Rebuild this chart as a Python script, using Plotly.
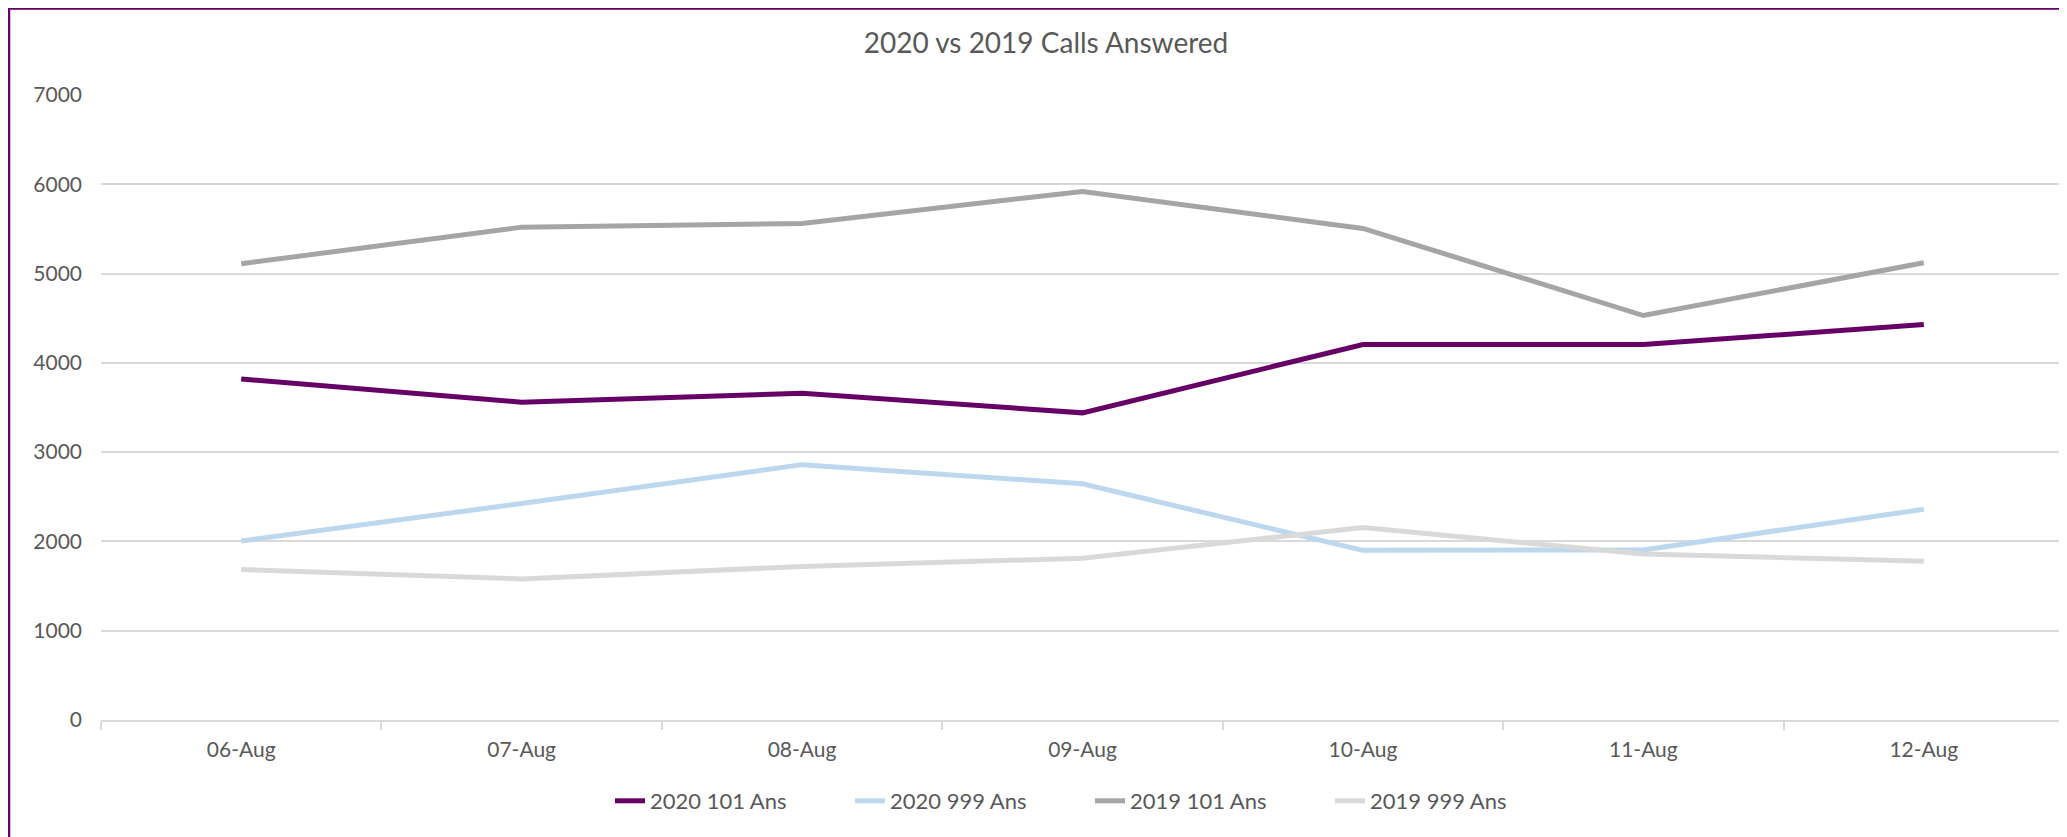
import plotly.graph_objects as go

dates = ["06-Aug", "07-Aug", "08-Aug", "09-Aug", "10-Aug", "11-Aug", "12-Aug"]
ans_2020_101 = [3820, 3560, 3660, 3440, 4205, 4205, 4430]
ans_2020_999 = [2005, 2425, 2860, 2645, 1900, 1905, 2360]
ans_2019_101 = [5110, 5520, 5560, 5920, 5505, 4530, 5122]
ans_2019_999 = [1685, 1580, 1720, 1812, 2155, 1858, 1778]

series_names = ["2020 101 Ans", "2020 999 Ans", "2019 101 Ans", "2019 999 Ans"]
series_colors = ["#660066", "#BDD7EE", "#A5A5A5", "#D9D9D9"]
series_values = [ans_2020_101, ans_2020_999, ans_2019_101, ans_2019_999]

W, H = 2067, 837
OFF = 8  # page body margin offset
L, R, T, B = 101 - OFF, 11, 95 - OFF, 125
FONT = "Lato, 'Open Sans', sans-serif"
TXT = "#595959"

fig = go.Figure()
for name, color, vals in zip(series_names, series_colors, series_values):
    fig.add_trace(go.Scatter(
        x=dates, y=vals, name=name, mode="lines",
        line=dict(color=color, width=5),
    ))

plot_w = W - L - R
plot_h = H - T - B

def px_x(p):
    return (p - L) / plot_w

def px_y(p):
    return (H - B - p) / plot_h

fig.update_layout(
    width=W, height=H,
    margin=dict(l=L, r=R, t=T, b=B, autoexpand=False),
    paper_bgcolor="white", plot_bgcolor="white",
    font=dict(family=FONT, color=TXT, size=21),
    title=dict(text="2020 vs 2019 Calls Answered", x=(1046 - OFF) / W, xref="container",
               xanchor="center", y=1 - (43 - OFF) / H, yref="container", yanchor="middle",
               font=dict(size=28, color=TXT, family=FONT)),
    showlegend=True,
    legend=dict(orientation="h", x=px_x(1090 - OFF), xanchor="center",
                yref="container", y=1 - (801 - OFF) / H, yanchor="middle",
                font=dict(size=22, color=TXT), entrywidth=195,
                bgcolor="rgba(0,0,0,0)"),
    xaxis=dict(type="category", range=[-0.5, 6.5], showgrid=False,
               showline=True, linecolor="#D9D9D9", linewidth=2,
               ticks="outside", tickson="boundaries", ticklen=8,
               tickcolor="#D9D9D9", tickwidth=2,
               tickfont=dict(size=21, color=TXT), ticklabelstandoff=10,
               fixedrange=True),
    yaxis=dict(range=[0, 7000], tickvals=[0, 1000, 2000, 3000, 4000, 5000, 6000, 7000],
               showgrid=True, gridcolor="#D9D9D9", gridwidth=2,
               zeroline=False, showline=False, ticks="",
               tickfont=dict(size=21, color=TXT), ticklabelstandoff=18,
               fixedrange=True),
    shapes=[dict(type="path", xref="paper", yref="paper",
                 path=f"M {px_x(1)} {px_y(H + 5)} L {px_x(1)} {px_y(0.5)} L {px_x(W + 5)} {px_y(0.5)}",
                 line=dict(color="#660066", width=2.5), layer="above")],
)

fig.write_html("out.html")
